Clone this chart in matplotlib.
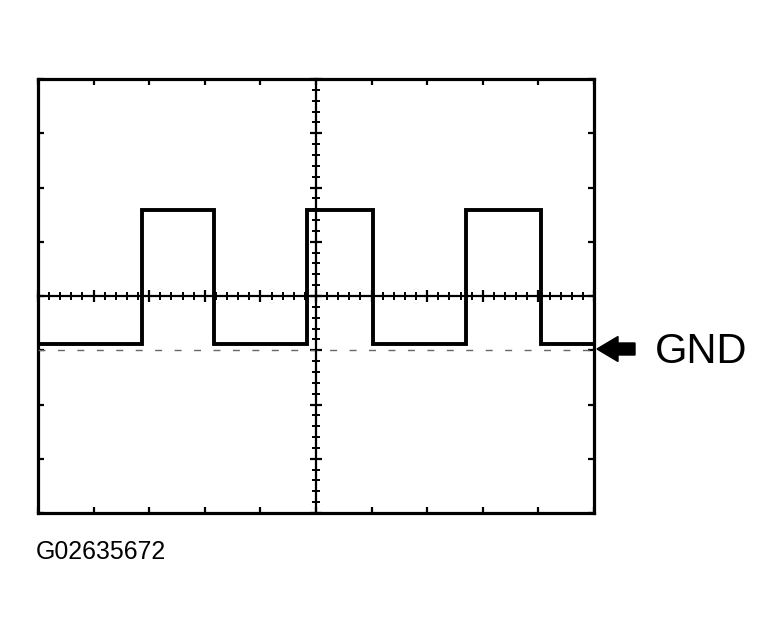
import matplotlib
matplotlib.use("Agg")
import matplotlib.pyplot as plt
import numpy as np
from matplotlib.patches import FancyArrow
from matplotlib.ticker import MultipleLocator

# scope screen: 10 x 8 divisions, values in divisions
edges = [-5.0, -3.13, -1.83, -0.16, 1.03, 2.70, 4.04, 5.0]
levels = [-0.88, 1.58, -0.88, 1.58, -0.88, 1.58, -0.88]
gnd_level = -1.0
gnd_label = "GND"
fig_code = "G02635672"

W, H = 782, 636
fig = plt.figure(figsize=(W / 100, H / 100), dpi=100)

# box in pixels (left, top, right, bottom)
bl, bt, br, bb = 38, 79, 594, 513
pos = [bl / W, (H - bb) / H, (br - bl) / W, (bb - bt) / H]

# outer frame with ticks at each division
ax = fig.add_axes(pos)
ax.set_xlim(-5, 5)
ax.set_ylim(-4, 4)
for s in ax.spines.values():
    s.set_linewidth(2.3)
ax.xaxis.set_major_locator(MultipleLocator(1))
ax.yaxis.set_major_locator(MultipleLocator(1))
ax.tick_params(which="major", direction="in", length=4, width=1.6,
               top=True, right=True, labelbottom=False, labelleft=False)

# centre graticule with fine ticks
ax2 = fig.add_axes(pos, frameon=True)
ax2.patch.set_alpha(0)
ax2.set_xlim(-5, 5)
ax2.set_ylim(-4, 4)
ax2.spines["left"].set_position(("data", 0))
ax2.spines["bottom"].set_position(("data", 0))
ax2.spines["top"].set_visible(False)
ax2.spines["right"].set_visible(False)
ax2.spines["left"].set_linewidth(1.6)
ax2.spines["bottom"].set_linewidth(1.6)
for a in (ax2.xaxis, ax2.yaxis):
    a.set_major_locator(MultipleLocator(1))
    a.set_minor_locator(MultipleLocator(0.2))
ax2.tick_params(which="major", direction="inout", length=9, width=1.6,
                labelbottom=False, labelleft=False)
ax2.tick_params(which="minor", direction="inout", length=6, width=1.4)

# ground reference (dashed) and signal
ax2.axhline(gnd_level, color="0.4", lw=1.0, ls=(0, (5, 9)))
ax2.stairs(levels, edges, baseline=None, color="black", lw=2.8, zorder=5)

# GND arrow and label, in pixel units
px = fig.dpi_scale_trans
arr = FancyArrow(6.35, (H - 349) / 100, -0.38, 0, width=0.12,
                 head_width=0.25, head_length=0.21, length_includes_head=True,
                 color="black", transform=px)
fig.patches.append(arr)
fig.text(655 / W, (H - 363) / H, gnd_label, fontsize=30,
         family="Liberation Sans", va="baseline", ha="left")
fig.text(36 / W, (H - 559) / H, fig_code, fontsize=17.9,
         family="Liberation Sans", va="baseline", ha="left")

fig.savefig("out.png", dpi=100)
